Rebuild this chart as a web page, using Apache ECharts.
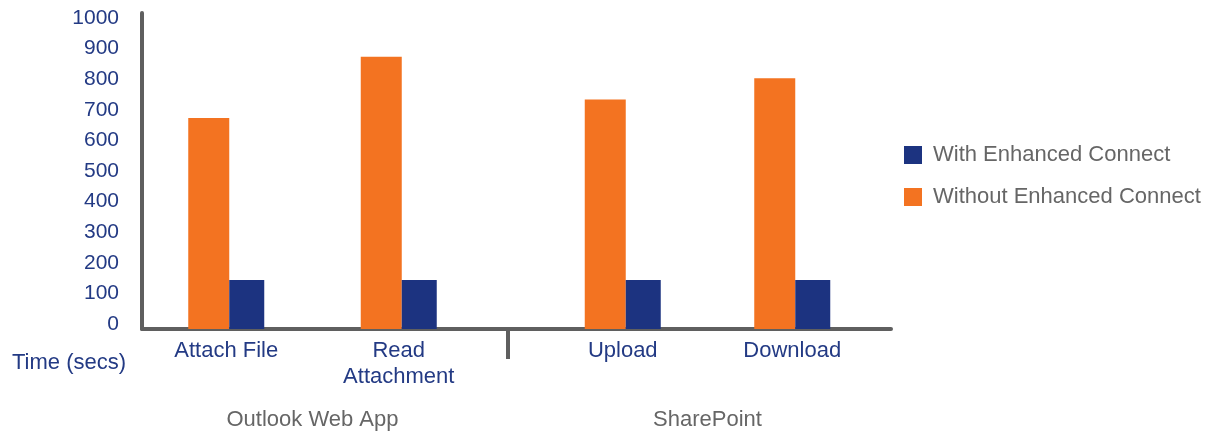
<!DOCTYPE html>
<html>
<head>
<meta charset="utf-8">
<title>Enhanced Connect</title>
<script src="https://cdn.jsdelivr.net/npm/echarts@6/dist/echarts.min.js"></script>
<style>
  html, body { margin: 0; padding: 0; background: #fff; }
  #chart { width: 1216px; height: 432px; }
</style>
</head>
<body>
<div id="chart"></div>
<script>
  // 数据
  const groups = ['Outlook Web App', 'SharePoint'];
  const outlookTasks = ['Attach File', 'Read\nAttachment'];
  const sharepointTasks = ['Upload', 'Download'];
  const seriesNames = ['With Enhanced Connect', 'Without Enhanced Connect'];
  const outlookWithout = [690, 890];
  const outlookWith = [160, 160];
  const sharepointWithout = [750, 820];
  const sharepointWith = [160, 160];
  const yMin = 0;
  const yMax = 1033;
  const yStep = 100;

  const navy = '#1c3380';
  const orange = '#f37321';
  const axisGray = '#5f5f5f';
  const textNavy = '#233a84';
  const textGray = '#666666';
  const font = 'Liberation Sans';

  // where the group separator falls on the base axis (0..1)
  const groupSplit = 0.4887;

  const chart = echarts.init(document.getElementById('chart'));

  const hiddenY = (gi) => ({
    type: 'value', gridIndex: gi, min: yMin, max: yMax, interval: yStep,
    show: false
  });

  const taskAxis = (gi, data, name) => ({
    type: 'category', gridIndex: gi, data: data,
    axisLine: { show: false },
    axisTick: { show: false },
    axisLabel: {
      color: textNavy, fontFamily: font, fontSize: 22,
      lineHeight: 26, margin: 9, interval: 0
    },
    name: name,
    nameLocation: 'middle',
    nameGap: 80,
    nameTextStyle: { color: textGray, fontFamily: font, fontSize: 22 }
  });

  const barSeries = (name, gi, data, color, width) => ({
    name: name, type: 'bar', xAxisIndex: gi, yAxisIndex: gi,
    data: data, barWidth: width, barGap: 0,
    itemStyle: { color: color }
  });

  // 布局：不让 v6 自动收缩 grid
  const gridBase = { top: 13, bottom: 103, outerBoundsMode: 'none', containLabel: false };

  chart.setOption({
    animation: false,
    title: {
      text: 'Time (secs)', left: 7, top: 347,
      textStyle: { color: textNavy, fontFamily: font, fontSize: 22, fontWeight: 'normal' }
    },
    legend: {
      data: seriesNames,
      orient: 'vertical',
      left: 899, top: 139,
      itemWidth: 18, itemHeight: 18, itemGap: 20,
      icon: 'rect',
      textStyle: { color: textGray, fontFamily: font, fontSize: 22, padding: [0, 0, 0, 6] }
    },
    grid: [
      // base grid: y axis and the long x axis line
      Object.assign({ left: 142, width: 749 }, gridBase),
      Object.assign({ left: 140, width: 345 }, gridBase),
      Object.assign({ left: 538, width: 339 }, gridBase)
    ],
    xAxis: [
      {
        type: 'value', gridIndex: 0, min: 0, max: 1,
        axisLine: { show: true, lineStyle: { color: axisGray, width: 4 } },
        axisTick: {
          show: true, length: 30, inside: false,
          customValues: [groupSplit],
          lineStyle: { color: axisGray, width: 4 }
        },
        axisLabel: { show: false },
        splitLine: { show: false }
      },
      taskAxis(1, outlookTasks, groups[0]),
      taskAxis(2, sharepointTasks, groups[1])
    ],
    yAxis: [
      {
        type: 'value', gridIndex: 0, min: yMin, max: yMax, interval: yStep,
        axisLine: { show: true, lineStyle: { color: axisGray, width: 4 } },
        axisTick: { show: false },
        splitLine: { show: false },
        axisLabel: {
          color: textNavy, fontFamily: font, fontSize: 21, margin: 23,
          showMaxLabel: false, verticalAlign: 'bottom', lineHeight: 10,
          formatter: (v) => String(v)
        }
      },
      hiddenY(1),
      hiddenY(2)
    ],
    series: [
      barSeries(seriesNames[1], 1, outlookWithout, orange, 41),
      barSeries(seriesNames[0], 1, outlookWith, navy, 35),
      barSeries(seriesNames[1], 2, sharepointWithout, orange, 41),
      barSeries(seriesNames[0], 2, sharepointWith, navy, 35)
    ]
  });
</script>
</body>
</html>
